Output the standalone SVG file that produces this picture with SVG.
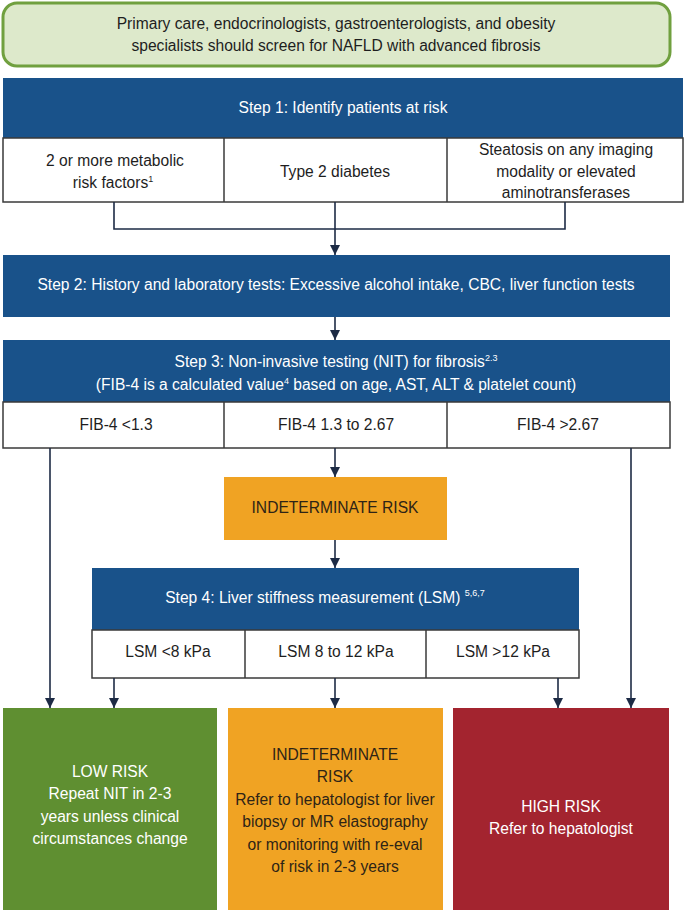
<svg xmlns="http://www.w3.org/2000/svg" width="688" height="910" viewBox="0 0 688 910">
  <style>
    text { font-family: "Liberation Sans", Arial, sans-serif; font-size: 15.6px; text-anchor: middle; }
    .hdr { fill: #19528a; }
    .hdr-t { fill: #ffffff; }
    .cell { fill: #ffffff; stroke: #3a3a3a; stroke-width: 1.5; }
    .cell-t { fill: #1e1e1e; }
    .sup { font-size: 9px; }
    .wire { fill: none; stroke: #1d2b45; stroke-width: 1.6; }
  </style>
  <defs>
    <marker id="arrow" viewBox="0 0 10 10" refX="10" refY="5" markerWidth="10" markerHeight="10" markerUnits="userSpaceOnUse" orient="auto">
      <path d="M0,0 L10,5 L0,10 Z" fill="#1d2b45"/>
    </marker>
  </defs>

  <rect width="688" height="910" fill="#ffffff"/>

  <!-- Screening banner -->
  <g id="screen">
    <rect x="3" y="3" width="667" height="63" rx="14" fill="#dde9cb" stroke="#70a03f" stroke-width="3"/>
    <text x="336" y="29" class="cell-t">Primary care, endocrinologists, gastroenterologists, and obesity</text>
    <text x="336" y="51" class="cell-t">specialists should screen for NAFLD with advanced fibrosis</text>
  </g>

  <!-- Step 1 -->
  <g id="step1">
    <rect x="3" y="78" width="680" height="60" class="hdr"/>
    <text x="343" y="113" class="hdr-t">Step 1: Identify patients at risk</text>
    <rect x="3" y="138" width="680" height="64" class="cell"/>
    <line x1="224" y1="138" x2="224" y2="202" class="cell"/>
    <line x1="447" y1="138" x2="447" y2="202" class="cell"/>
    <text x="115" y="166" class="cell-t">2 or more metabolic</text>
    <text x="113" y="188" class="cell-t">risk factors<tspan class="sup" dy="-6">1</tspan></text>
    <text x="335" y="177" class="cell-t">Type 2 diabetes</text>
    <text x="566" y="155" class="cell-t">Steatosis on any imaging</text>
    <text x="566" y="177" class="cell-t">modality or elevated</text>
    <text x="566" y="198" class="cell-t">aminotransferases</text>
  </g>

  <!-- Step 2 -->
  <g id="step2">
    <rect x="3" y="255" width="667" height="62" class="hdr"/>
    <text x="336" y="290" class="hdr-t">Step 2: History and laboratory tests: Excessive alcohol intake, CBC, liver function tests</text>
  </g>

  <!-- Step 3 -->
  <g id="step3">
    <rect x="3" y="340" width="667" height="62" class="hdr"/>
    <text x="336" y="367" class="hdr-t">Step 3: Non-invasive testing (NIT) for fibrosis<tspan class="sup" dy="-6">2.3</tspan></text>
    <text x="336" y="390" class="hdr-t">(FIB-4 is a calculated value<tspan class="sup" dy="-6">4</tspan><tspan dy="6"> based on age, AST, ALT &amp; platelet count)</tspan></text>
    <rect x="3" y="402" width="667" height="46" class="cell"/>
    <line x1="224" y1="402" x2="224" y2="448" class="cell"/>
    <line x1="447" y1="402" x2="447" y2="448" class="cell"/>
    <text x="116" y="430" class="cell-t">FIB-4 &lt;1.3</text>
    <text x="336" y="430" class="cell-t">FIB-4 1.3 to 2.67</text>
    <text x="558" y="430" class="cell-t">FIB-4 &gt;2.67</text>
  </g>

  <!-- Indeterminate result of FIB-4 -->
  <g id="fib-indeterminate">
    <rect x="224" y="477" width="223" height="63" fill="#f0a323"/>
    <text x="335" y="513" fill="#2e2416">INDETERMINATE RISK</text>
  </g>

  <!-- Step 4 -->
  <g id="step4">
    <rect x="92" y="568" width="487" height="62" class="hdr"/>
    <text x="325" y="603" class="hdr-t">Step 4: Liver stiffness measurement (LSM) <tspan class="sup" dy="-7">5,6,7</tspan></text>
    <rect x="92" y="630" width="487" height="48" class="cell"/>
    <line x1="245" y1="630" x2="245" y2="678" class="cell"/>
    <line x1="426" y1="630" x2="426" y2="678" class="cell"/>
    <text x="168" y="657" class="cell-t">LSM &lt;8 kPa</text>
    <text x="336" y="657" class="cell-t">LSM 8 to 12 kPa</text>
    <text x="503" y="657" class="cell-t">LSM &gt;12 kPa</text>
  </g>

  <!-- Outcomes -->
  <g id="low-risk">
    <rect x="3" y="708" width="214" height="205" fill="#5f8f31"/>
    <text x="110" y="777" fill="#ffffff">LOW RISK</text>
    <text x="110" y="799" fill="#ffffff">Repeat NIT in 2-3</text>
    <text x="110" y="822" fill="#ffffff">years unless clinical</text>
    <text x="110" y="844" fill="#ffffff">circumstances change</text>
  </g>

  <g id="indeterminate-risk">
    <rect x="228" y="708" width="215" height="205" fill="#f0a323"/>
    <text x="335" y="760" fill="#2e2416">INDETERMINATE</text>
    <text x="335" y="782" fill="#2e2416">RISK</text>
    <text x="335" y="805" fill="#2e2416">Refer to hepatologist for liver</text>
    <text x="335" y="827" fill="#2e2416">biopsy or MR elastography</text>
    <text x="335" y="850" fill="#2e2416">or monitoring with re-eval</text>
    <text x="335" y="872" fill="#2e2416">of risk in 2-3 years</text>
  </g>

  <g id="high-risk">
    <rect x="453" y="708" width="216" height="205" fill="#a3242f"/>
    <text x="561" y="812" fill="#ffffff">HIGH RISK</text>
    <text x="561" y="834" fill="#ffffff">Refer to hepatologist</text>
  </g>

  <!-- Connectors -->
  <g id="connectors">
    <path d="M114,202 V229 H565 V202" class="wire"/>
    <path d="M335,202 V255" class="wire" marker-end="url(#arrow)"/>
    <path d="M335,317 V340" class="wire" marker-end="url(#arrow)"/>
    <path d="M335,448 V477" class="wire" marker-end="url(#arrow)"/>
    <path d="M50,448 V708" class="wire" marker-end="url(#arrow)"/>
    <path d="M631,448 V708" class="wire" marker-end="url(#arrow)"/>
    <path d="M335,540 V568" class="wire" marker-end="url(#arrow)"/>
    <path d="M114,678 V708" class="wire" marker-end="url(#arrow)"/>
    <path d="M335,678 V708" class="wire" marker-end="url(#arrow)"/>
    <path d="M558,678 V708" class="wire" marker-end="url(#arrow)"/>
  </g>
</svg>
